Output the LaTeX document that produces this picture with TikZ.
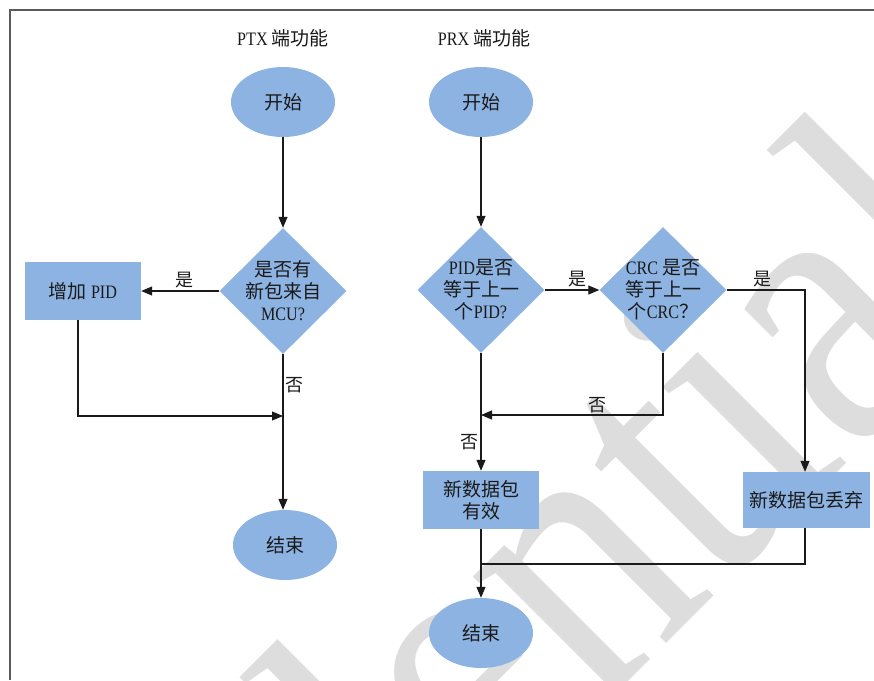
\documentclass[tikz,border=0pt]{standalone}
\usepackage{fontspec}
\setmainfont[FakeStretch=0.85]{Liberation Serif}
\newfontfamily\cjk{Noto Sans CJK SC}
\usetikzlibrary{shapes.geometric,arrows.meta}
\definecolor{flowfill}{HTML}{8DB3E2}
\definecolor{flowink}{HTML}{1A1A1A}
\definecolor{markgray}{HTML}{DDDDDD}
\definecolor{framegray}{HTML}{5A5A5A}

\begin{document}
\begin{tikzpicture}[x=1pt, y=-1pt, >={Triangle[length=11pt,width=9pt]},
                    every node/.style={flowink, font=\fontsize{19}{22}\selectfont},
                    term/.style={ellipse, fill=flowfill, inner sep=0pt,
                                 minimum width=104pt, minimum height=70pt},
                    dec/.style={diamond, fill=flowfill, inner sep=0pt,
                                minimum width=127pt, minimum height=126pt},
                    proc/.style={rectangle, fill=flowfill, inner sep=0pt,
                                 minimum width=116pt, minimum height=58pt, align=center},
                    wire/.style={flowink, line width=1.1pt, ->},
                    line/.style={flowink, line width=1.1pt},
                    lbl/.style={inner sep=2pt, font=\fontsize{18}{21}\selectfont}]

  \useasboundingbox (0,0) rectangle (874,680);

  %% watermark behind everything
  \begin{scope}
    \clip (10,10) rectangle (874,680);
    \node[markgray, rotate=45, anchor=base east, inner sep=0pt,
          font=\fontsize{400}{400}\selectfont] (wm) at (1025,285) {Confidential};
  \end{scope}

  %% page frame
  \draw[framegray, line width=1.5pt] (10,680) -- (10,10) -- (874,10);

  %% column titles
  \node (t1) at (283,38) {PTX {\cjk 端功能}};
  \node (t2) at (484,38) {PRX {\cjk 端功能}};

  %% PTX side
  \node[term] (s1) at (283,102) {\cjk 开始};
  \node[dec, label={[align=center, inner sep=0pt]center:{\cjk 是否有}\\{\cjk 新包来自}\\MCU?}]
    (q1) at (283,291) {};
  \node[proc] (p1) at (83,291) {{\cjk 增加} PID};
  \coordinate (j1) at (283,416);
  \node[term] (e1) at (285,545) {\cjk 结束};

  \draw[wire] (s1) -- (q1);
  \draw[wire] (q1.west) -- node[lbl, above, pos=0.45] {\cjk 是} (p1.east);
  \draw[wire] ([xshift=-5pt]p1.south) |- (j1);
  \draw[wire] (q1.south) -- node[lbl, right, pos=0.2] {\cjk 否} (e1.north -| q1.south);

  %% PRX side
  \node[term] (s2) at (481,102) {\cjk 开始};
  \node[dec, label={[align=center, inner sep=0pt]center:PID{\cjk 是否}\\{\cjk 等于上一}\\{\cjk 个}PID?}]
    (q2) at (481,290) {};
  \node[dec, label={[align=center, inner sep=0pt]center:CRC {\cjk 是否}\\{\cjk 等于上一}\\{\cjk 个}CRC{\cjk ？}}]
    (q3) at (663,290) {};
  \node[proc] (v1) at (481,500) {\cjk 新数据包\\\cjk 有效};
  \node[proc, minimum width=127pt, minimum height=56pt] (d2) at (806,500) {\cjk 新数据包丢弃};
  \coordinate (j2) at (481,415);
  \coordinate (j3) at (481,564);
  \node[term] (e2) at (481,633) {\cjk 结束};

  \draw[wire] (s2) -- (q2);
  \draw[wire] (q2) -- node[lbl, above, pos=0.6] {\cjk 是} (q3);
  \draw[wire] (q3.east) -| node[lbl, above, pos=0.23] {\cjk 是} (d2.north -| 805,0);
  \draw[wire] (q3.south) |- node[lbl, above, pos=0.68] {\cjk 否} (j2);
  \draw[wire] (q2.south) -- node[lbl, left, pos=0.76] {\cjk 否} (v1.north);
  \draw[wire] (v1) -- (e2);
  \draw[line] (d2.south -| 805,0) |- (j3);

\end{tikzpicture}
\end{document}
